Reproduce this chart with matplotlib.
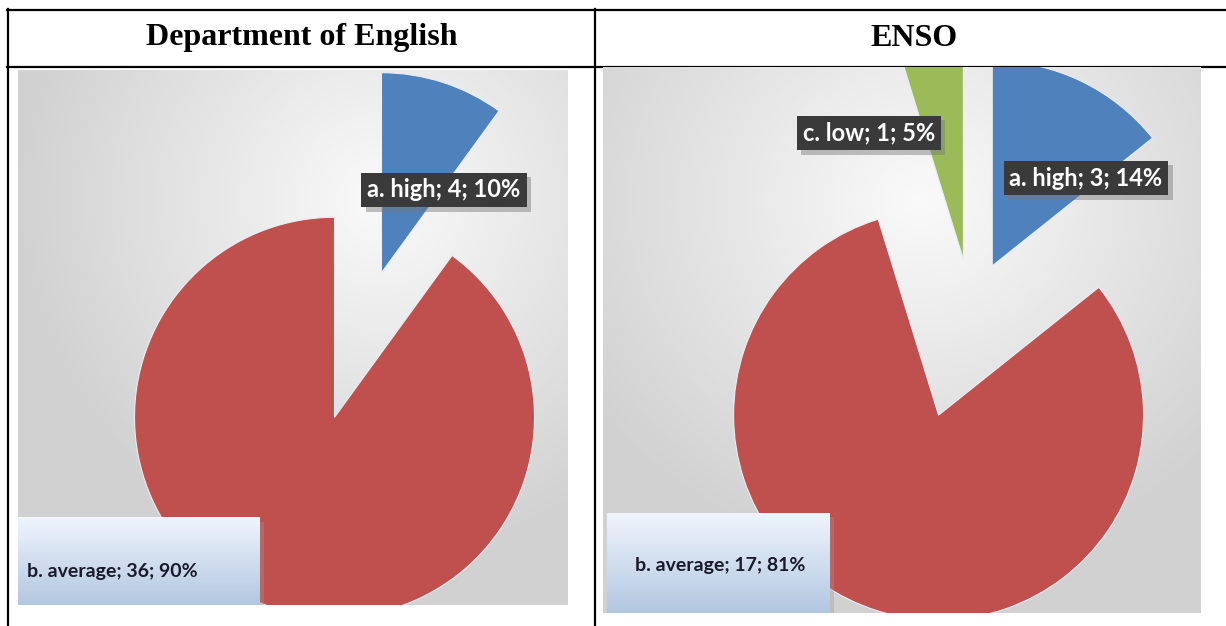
import matplotlib.pyplot as plt
import matplotlib.patheffects as pe
import numpy as np

# data
dept_labels = ['a. high', 'b. average']
dept_counts = [4, 36]
dept_pcts = [10, 90]

enso_labels = ['a. high', 'b. average', 'c. low']
enso_counts = [3, 17, 1]
enso_pcts = [14, 81, 5]

titles = ['Department of English', 'ENSO']

BLUE, RED, GREEN = '#4F81BD', '#C0504D', '#9BBB59'

W, H = 1226, 626
fig = plt.figure(figsize=(W / 100, H / 100), dpi=100)

# table frame
base = fig.add_axes([0, 0, 1, 1])
base.set_xlim(0, W)
base.set_ylim(H, 0)
base.axis('off')
lw = 1.6
base.plot([7, W], [10, 10], color='black', lw=lw)
base.plot([7, W], [67, 67], color='black', lw=lw)
base.plot([8, 8], [9, H], color='black', lw=lw)
base.plot([595, 595], [9, 625], color='black', lw=lw)
base.text(302, 38, titles[0], ha='center', va='center', fontsize=23,
          family='Liberation Serif', weight='bold')
base.text(914, 38, titles[1], ha='center', va='center', fontsize=23,
          family='Liberation Serif', weight='bold')


def chart_axes(x0, y0, x1, y1, gx, gy):
    ax = fig.add_axes([x0 / W, 1 - y1 / H, (x1 - x0) / W, (y1 - y0) / H])
    yy, xx = np.mgrid[y0:y1, x0:x1]
    d = np.hypot((xx - gx) / (x1 - x0), (yy - gy) / (y1 - y0))
    v = np.clip(0.98 - 0.24 * d, 0.82, 0.98)
    ax.imshow(np.dstack([v, v, v]), extent=(x0, x1, H - y1, H - y0),
              origin='upper', aspect='auto', zorder=0)
    return ax


def finish(ax, x0, y0, x1, y1):
    ax.set_xlim(x0, x1)
    ax.set_ylim(H - y1, H - y0)
    ax.set_aspect('auto')
    ax.axis('off')


shadow = [pe.SimplePatchShadow(offset=(3, -3), shadow_rgbFace='#777777', alpha=0.45),
          pe.Normal()]


def dark_label(ax, x, y, s):
    t = ax.text(x, H - y, s, ha='center', va='center', fontsize=17,
                family='Lato', weight='bold', color='white', zorder=5,
                bbox=dict(boxstyle='square,pad=0.25', fc='#3a3a3a', ec='none'))
    t.get_bbox_patch().set_path_effects(shadow)


def light_label(ax, bx0, by0, bx1, by1, tx, ty, s, ha='left'):
    n = 100
    t = np.linspace(0, 1, n)[:, None]
    top = np.array([0.94, 0.96, 0.99])
    bot = np.array([0.70, 0.78, 0.88])
    grad = (1 - t) * top + t * bot
    grad = np.repeat(grad[:, None, :], 2, axis=1)
    ax.add_patch(plt.Rectangle((bx0 + 4, H - by1 - 4), bx1 - bx0, by1 - by0,
                               fc='#999999', ec='none', alpha=0.35, zorder=3))
    ax.imshow(grad, extent=(bx0, bx1, H - by1, H - by0), origin='upper',
              aspect='auto', zorder=4)
    ax.text(tx, H - ty, s, ha=ha, va='center', fontsize=14,
            family='Lato', weight='bold', color='#1a1a2a', zorder=5)


wprops = dict(edgecolor='#e8eef5', linewidth=0.8, zorder=2, clip_on=True)

# left chart
L = (18, 70, 568, 605)
axl = chart_axes(*L, gx=380, gy=200)
axl.pie(dept_counts, colors=[BLUE, RED], startangle=90, counterclock=False,
        explode=[76, 76], radius=200, center=(358, H - 345), wedgeprops=wprops)
finish(axl, *L)
lab = [f'{l}; {c}; {p}%' for l, c, p in zip(dept_labels, dept_counts, dept_pcts)]
dark_label(axl, 444, 190, lab[0])
light_label(axl, 18, 518, 260, 605, 27, 572, lab[1])

# right chart
R = (603, 67, 1201, 613)
axr = chart_axes(*R, gx=920, gy=200)
axr.pie(enso_counts, colors=[BLUE, RED, GREEN], startangle=90, counterclock=False,
        explode=[49, 110, 51], radius=205, center=(971, H - 310), wedgeprops=wprops)
finish(axr, *R)
lab = [f'{l}; {c}; {p}%' for l, c, p in zip(enso_labels, enso_counts, enso_pcts)]
dark_label(axr, 1086, 178, lab[0])
dark_label(axr, 869, 133, lab[2])
light_label(axr, 607, 513, 830, 613, 720, 566, lab[1], ha='center')

fig.savefig('out.png', dpi=100)
